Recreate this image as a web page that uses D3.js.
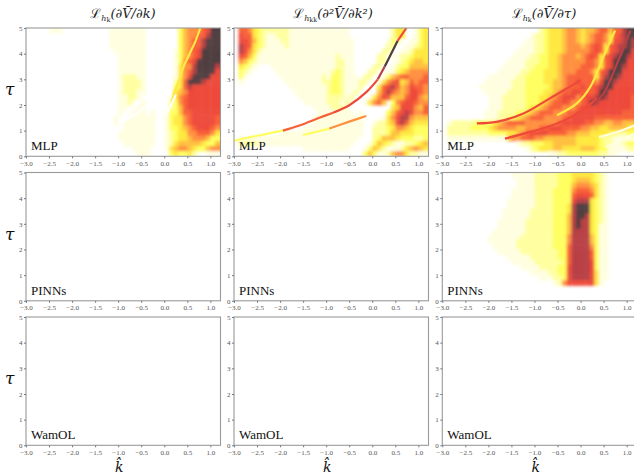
<!DOCTYPE html>
<html>
<head>
<meta charset="utf-8">
<style>
  html, body { margin: 0; padding: 0; background: #fff; overflow: hidden; }
  .tick text { font-family: "Liberation Serif", serif; font-size: 7px; fill: #555; }
  .tick line { stroke: #777; }
</style>
<script src="https://cdnjs.cloudflare.com/ajax/libs/d3/7.8.5/d3.min.js"></script>
</head>
<body>
<script>
const kTicks = [-3, -2.5, -2, -1.5, -1, -0.5, 0, 0.5, 1];
const tauTicks = [0, 1, 2, 3, 4, 5];
const modelNames = ["MLP", "PINNs", "WamOL"];

// loss level per cell, 0 (white) to a (darkest). rows run from tau 5 down, each
// cell is 0.1 wide in k and 0.2 tall in tau, columns start at k = -3
const mlpLossK = [
  "0000011100 0000000011 1111110000 0003566678 aa",
  "0000000000 0000000011 1111110000 0003566779 aa",
  "0000000000 0000000011 1111110000 000356779a aa",
  "0000000000 0000000011 1111110000 000356779a aa",
  "0000000000 0000000001 1111110000 00135678aa aa",
  "0000000000 0000000000 1111110000 00135678aa aa",
  "0000000000 0000000000 1111110000 0013678aaa aa",
  "0000000000 0000000000 1111110000 001466 9aaa a9",
  "0000000000 0000000000 1111110000 001467 9aaa a8",
  "0000000000 0000000000 1222110000 001468 aaaa 88",
  "0000000000 0000000000 1222210000 00247aaa98 88",
  "0000000000 0000000000 1222210000 0034798888 88",
  "0000000000 0000000000 1222110000 0045688888 88",
  "0000000000 0000000000 1122100000 0146788888 88",
  "0000000000 0000000000 1120010000 0236788888 88",
  "0000000000 0000000000 1100110000 0235788888 88",
  "0000000000 0000000000 1001110100 1335778888 88",
  "0000000000 0000000001 0011111100 1344678888 87",
  "0000000000 0000000001 0111111100 1344678888 87",
  "0000000000 0000000000 0111111100 1334567888 76",
  "0000000000 0000000000 1111111100 1234466777 64",
  "0000000000 0000000000 1111111100 1234456665 33",
  "0000000000 0000000000 0111111100 1245555543 35",
  "0000000000 0000000000 0001111000 1456654335 66",
  "0000000000 0000000000 0000111000 0343342001 11"
];
const mlpLossKK = [
  "7776432222 2211111111 1111100000 0000244001 34",
  "7877432112 2211111111 1111100000 0000244001 34",
  "8887532111 2211111111 1111110000 0001320011 34",
  "8987432111 1211111111 1111110000 0002200112 34",
  "8986421111 1111111111 1111110000 0022001124 44",
  "8875311111 1111111111 1121110000 0220112234 44",
  "7653211111 1111111111 1122110000 0220012345 54",
  "5432100011 1111111111 1122110000 2200123355 55",
  "4321000001 1111111111 1232110002 2001134566 66",
  "4310000000 1111111112 1332111022 0013567766 67",
  "3100000000 0111111112 2332111220 0146784576 77",
  "1000000000 0011111111 2332111200 0478975687 76",
  "0000000000 0001111111 2332112000 0579765688 76",
  "0000000000 0000111111 2222120001 4687555788 65",
  "0000000000 0000011111 2221200014 6750367887 66",
  "0000000000 0000000111 1222100000 0000458886 57",
  "0000000000 0000000011 1111110100 0003578986 67",
  "0000000000 0000000111 1111111100 0014689965 55",
  "0000000000 0000000111 1111111100 1224589754 44",
  "0000000000 0000011111 1111111100 2223466543 33",
  "0000000000 1111111111 1111111100 2223554443 33",
  "2111111111 1111111111 1111111000 2355543332 23",
  "2222211111 1111111111 1111110001 3543211223 45",
  "0000000000 0000011111 1111100013 5420112456 54",
  "0000000000 0000000000 0000000035 3112566422 11"
];
const mlpLossTau = [
  "0000000000 0000000000 0234445665 4556775779 aa",
  "0000000000 0000000001 2234445665 4567764789 aa",
  "0000000000 0000000011 2234445665 4567764889 a9",
  "0000000000 0000000111 2234445666 5678747899 a9",
  "0000000000 0000001111 2234445666 667874789a a8",
  "0000000000 0000011112 2334456665 67874789aa 98",
  "0000000000 0000111122 2334456666 6776478aaa 88",
  "0000000000 0001111122 3334456666 7776478aa9 88",
  "0000000000 0011111223 3344456667 776478aaa8 88",
  "0000000000 1111112233 3344456777 777479aa98 88",
  "0000000001 1111122233 3344556778 77768aa988 88",
  "0000000011 1111122233 3334556777 87789aa888 88",
  "0000000001 1111222233 3344567788 7778aa8888 88",
  "0000000000 1112222233 3445678886 7889a98888 87",
  "0000000000 1112222233 3456778766 78a9888888 87",
  "0000000000 1112222234 4567776667 8888888888 87",
  "0000000001 1122223345 6777666778 8888888887 77",
  "0000000001 1122334567 7766667788 8887777777 77",
  "1122222333 3456777766 6666678888 8776655665 55",
  "2222223333 4566665566 6778887777 6655445555 44",
  "2222222222 3333445678 8887777665 5544443322 33",
  "1111111111 1111566777 6655555554 4444322111 11",
  "0000000000 0000001223 3344555554 4444322112 33",
  "0000000000 0000000012 3444554444 5554331111 22",
  "0000000000 0000000000 0001122333 3333221100 00"
];
const pinnsLossTau = [
  "0000000000 0000011111 2222233344 4443210000 00",
  "0000000000 0000001111 2222233345 5543210000 00",
  "0000000000 0000001111 2222233356 6654210000 00",
  "0000000000 0000011111 2222333367 7764210000 00",
  "0000000000 0000011111 2222333378 8874210000 00",
  "0000000000 0000111111 2222333389 9943210000 00",
  "0000000000 0000111111 222233349a aa43210000 00",
  "0000000000 0001111112 222233349a aa43210000 00",
  "0000000000 0001111112 222233359a a943210000 00",
  "0000000000 0011111122 222233359a 9943210000 00",
  "0000000000 0011111122 222233359a 9943110000 00",
  "0000000000 0111111122 2222333599 9943110000 00",
  "0000000000 1111111222 2222333699 9953110000 00",
  "0000000000 1111112222 2222333699 9953110000 00",
  "0000000000 0111112222 2222333799 9963110000 00",
  "0000000000 0011111222 2222233799 9973110000 00",
  "0000000000 0000111112 2222233799 9973110000 00",
  "0000000000 0000011111 2222223799 9983110000 00",
  "0000000000 0000000111 1222233899 9983110000 00",
  "0000000000 0000000001 1112233899 9984110000 00",
  "0000000000 0000000000 0111223899 9984110000 00",
  "0000000000 0000000000 0000126888 8884100000 00"
];

// thin ridges that the coarse cells cannot hold: [level, [k, tau], [k, tau], ...]
const mlpLossKRidges = [
  [4, [0.78, 5], [0.68, 4.5], [0.55, 4], [0.42, 3.5], [0.33, 3], [0.22, 2.5], [0.16, 2.1]],
  [0, [-1.0, 1.3], [-0.7, 1.55], [-0.4, 1.95], [-0.12, 2.4]],
  [0, [0.02, 1.6], [0.15, 2.0], [0.25, 2.4]]
];
const mlpLossKKRidges = [
  [3, [-3, 0.6], [-2.5, 0.8], [-1.94, 1.0]],
  [7, [-1.94, 1.0], [-1.58, 1.2], [-1.15, 1.5], [-0.85, 1.7]],
  [8, [-0.85, 1.7], [-0.49, 2], [-0.13, 2.5], [0.12, 3]],
  [9, [0.12, 3], [0.27, 3.5]],
  [10, [0.27, 3.5], [0.41, 4], [0.55, 4.5]],
  [8, [0.55, 4.5], [0.74, 5]],
  [3, [-1.5, 0.83], [-0.93, 1.08]],
  [6, [-0.93, 1.08], [-0.5, 1.35], [-0.13, 1.57]]
];
const mlpLossTauRidges = [
  [8, [-2.25, 1.28], [-1.82, 1.34], [-1.24, 1.67], [-0.73, 2.19], [-0.3, 2.64], [0, 2.97]],
  [8, [-1.64, 0.69], [-1.09, 0.95], [-0.51, 1.28], [-0.07, 1.67], [0.36, 2.25]],
  [9, [0.28, 2.06], [0.5, 2.45], [0.79, 3.6], [1.08, 4.9]],
  [4, [0.75, 4.9], [0.5, 3.9], [0.21, 2.7], [-0.08, 2.06], [-0.51, 1.6]],
  [1, [0.4, 0.75], [0.8, 0.95], [1.17, 1.2]],
  [1, [0.54, 0.36], [0.85, 0.6], [1.17, 0.88]]
];

const panelCols = [26, 234, 442.3];
const panelRows = [28, 172.5, 317];
const titleCentres = [123, 333, 544];
const PANEL_W = 194.5;
const PANEL_H = 128.3;

const x = d3.scaleLinear().domain([-3, 1.22]).range([0, PANEL_W]);
const y = d3.scaleLinear().domain([0, 5]).range([PANEL_H, 0]);
const color = d3.scaleLinear()
  .domain([0, 1, 2, 3, 4, 5, 6, 7, 8, 9, 10])
  .range(["#ffffff", "#fffee0", "#ffffa0", "#ffff60", "#ffe840", "#ffc040", "#ff9040", "#f86038", "#ee4a3a", "#b84044", "#503c40"]);

const svg = d3.select("body").append("svg")
  .attr("width", 634)
  .attr("height", 475)
  .style("display", "block");

const defs = svg.append("defs");
defs.append("filter").attr("id", "soft")
  .append("feGaussianBlur").attr("stdDeviation", 1.7);
defs.append("filter").attr("id", "softRidge")
  .append("feGaussianBlur").attr("stdDeviation", 0.7);
defs.append("clipPath").attr("id", "plot")
  .append("rect").attr("width", PANEL_W).attr("height", PANEL_H);

const ridgeLine = d3.line().x(d => x(d[0])).y(d => y(d[1])).curve(d3.curveCatmullRom);

function drawHeat(g, rows, ridges) {
  const plot = g.append("g").attr("clip-path", "url(#plot)");
  const layer = plot.append("g").attr("filter", "url(#soft)");
  const cells = [];
  rows.forEach((row, r) => {
    row.replace(/ /g, "").split("").forEach((c, i) => {
      cells.push({k: -3 + i * 0.1, tau: 5 - r * 0.2, level: parseInt(c, 16)});
    });
  });
  layer.selectAll("rect")
    .data(cells.filter(d => d.level > 0))
    .enter().append("rect")
      .attr("x", d => d.k === -3 ? -6 : x(d.k))
      .attr("y", d => d.tau === 5 ? -6 : y(d.tau))
      .attr("width", d => d.k > 1.05 ? 20 : x(d.k + 0.1) - x(d.k) + 0.4)
      .attr("height", d => (d.tau === 5 ? 6 : 0) + y(d.tau - 0.2) - y(d.tau) + 0.4)
      .attr("fill", d => color(d.level));
  plot.append("g").attr("filter", "url(#softRidge)")
    .selectAll("path")
    .data(ridges)
    .enter().append("path")
      .attr("d", d => ridgeLine(d.slice(1)))
      .attr("fill", "none")
      .attr("stroke", d => color(d[0]))
      .attr("stroke-width", 2.2);
}

const heatData = {
  "0,0": [mlpLossK, mlpLossKRidges],
  "0,1": [mlpLossKK, mlpLossKKRidges],
  "0,2": [mlpLossTau, mlpLossTauRidges],
  "1,2": [pinnsLossTau, []]
};

panelRows.forEach((top, r) => {
  panelCols.forEach((left, c) => {
    const g = svg.append("g").attr("transform", `translate(${left},${top})`);
    const heat = heatData[`${r},${c}`];
    if (heat) drawHeat(g, heat[0], heat[1]);

    g.append("rect")
      .attr("width", PANEL_W)
      .attr("height", PANEL_H)
      .attr("fill", "none")
      .attr("stroke", "#999")
      .attr("stroke-width", 1.1);

    const xAxis = g.append("g").attr("transform", `translate(0,${PANEL_H})`)
      .call(d3.axisBottom(x).tickValues(kTicks).tickFormat(d3.format(".1f")).tickSize(2).tickPadding(2.5));
    const yAxis = g.append("g")
      .call(d3.axisLeft(y).tickValues(tauTicks).tickFormat(d3.format("d")).tickSize(2).tickPadding(1.5));
    xAxis.select(".domain").remove();
    yAxis.select(".domain").remove();

    g.append("text")
      .attr("x", 5)
      .attr("y", PANEL_H - 6)
      .attr("font-family", "Liberation Serif")
      .attr("font-size", 13)
      .attr("fill", "#111")
      .text(modelNames[r]);

    if (c === 0) {
      svg.append("text")
        .attr("x", 5)
        .attr("y", top + PANEL_H / 2 + 3)
        .attr("font-family", "DejaVu Serif")
        .attr("font-style", "italic")
        .attr("font-size", 17)
        .attr("fill", "#111")
        .text("τ");
    }
    if (r === 2) {
      svg.append("text")
        .attr("x", left + PANEL_W * 0.48)
        .attr("y", 472)
        .attr("text-anchor", "middle")
        .attr("font-family", "DejaVu Serif")
        .attr("font-style", "italic")
        .attr("font-size", 14)
        .attr("fill", "#111")
        .text("k\u0302");
    }
  });
});

// column titles
const titleParts = [
  ["h", "k", "(∂V̄/∂k)"],
  ["h", "kk", "(∂²V̄/∂k²)"],
  ["h", "k", "(∂V̄/∂τ)"]
];
titleParts.forEach((t, c) => {
  const title = svg.append("text")
    .attr("x", titleCentres[c])
    .attr("y", 18)
    .attr("text-anchor", "middle")
    .attr("font-family", "DejaVu Serif")
    .attr("font-size", 13)
    .attr("fill", "#222");
  title.append("tspan").text("ℒ");
  title.append("tspan").attr("font-size", 8).attr("dy", 2.5).attr("font-style", "italic").text(t[0]);
  title.append("tspan").attr("font-size", 6.5).attr("dy", 1).text(t[1]);
  title.append("tspan").attr("dy", -3.5).attr("font-style", "italic").text(t[2]);
});
</script>
</body>
</html>
